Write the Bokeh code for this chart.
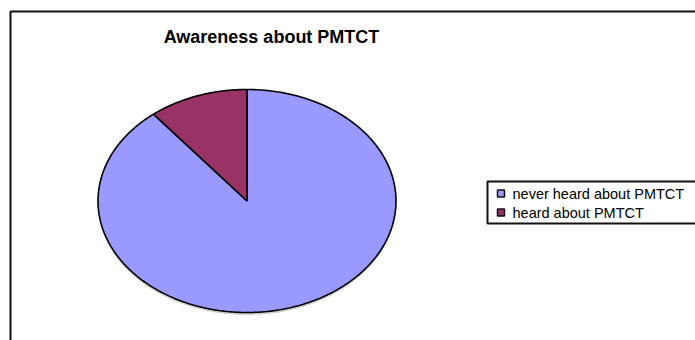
import numpy as np
from bokeh.plotting import figure
from bokeh.models import Range1d, ColumnDataSource
from bokeh.core.properties import value
from bokeh.embed import file_html
from bokeh.resources import INLINE

# ---- data ----
categories = ["never heard about PMTCT", "heard about PMTCT"]
values = [89.2, 10.8]
colors = ["#9999FF", "#993366"]
title = "Awareness about PMTCT"

W, H = 695, 340
p = figure(width=W, height=H, output_backend="svg", toolbar_location=None,
           x_range=Range1d(0, W), y_range=Range1d(H, 0), min_border=0,
           background_fill_color="white", border_fill_color="white")
p.axis.visible = False
p.grid.visible = False
p.outline_line_color = None

# outer chart border
p.quad(left=[10], right=[W + 5], top=[11], bottom=[H + 5], fill_color=None,
       line_color="#111111", line_width=2)

# title
p.text(x=[271], y=[36], text=[title], text_align="center", text_baseline="middle",
       text_font=value("Liberation Sans"), text_font_style="bold",
       text_font_size="18px", text_color="black")

# pie (ellipse) slices drawn as patches, angles clockwise from 12 o'clock
cx, cy, rx, ry = 246.5, 200.5, 149, 111.5
vals = np.array(values, dtype=float)
frac = vals / vals.sum()
ends = np.cumsum(frac) * 2 * np.pi
starts = np.concatenate([[0], ends[:-1]])

# shadow
t = np.linspace(0, 2 * np.pi, 200)
p.patch(cx + rx * np.sin(t), cy + 2.5 - ry * np.cos(t), fill_color="#777777",
        fill_alpha=0.35, line_color=None)

xs, ys = [], []
for s, e in zip(starts, ends):
    th = np.linspace(s, e, max(8, int((e - s) * 80)))
    xs.append([cx] + list(cx + rx * np.sin(th)) + [cx])
    ys.append([cy] + list(cy - ry * np.cos(th)) + [cy])
src = ColumnDataSource(dict(xs=xs, ys=ys, color=colors, label=categories))
p.patches("xs", "ys", source=src, fill_color="color", line_color="black", line_width=1.6)

# legend (manual)
p.quad(left=[487], right=[W + 5], top=[181], bottom=[223], fill_color="white",
       line_color="#111111", line_width=2)
ly = [193, 212]
p.rect(x=[500.5] * len(categories), y=ly, width=7, height=7, fill_color=colors,
       line_color="#111111", line_width=1.5)
p.text(x=[512] * len(categories), y=ly, text=categories, text_baseline="middle",
       text_font=value("Liberation Sans"), text_font_size="14.5px", text_color="black")

open("out.html", "w").write(file_html(p, INLINE))
